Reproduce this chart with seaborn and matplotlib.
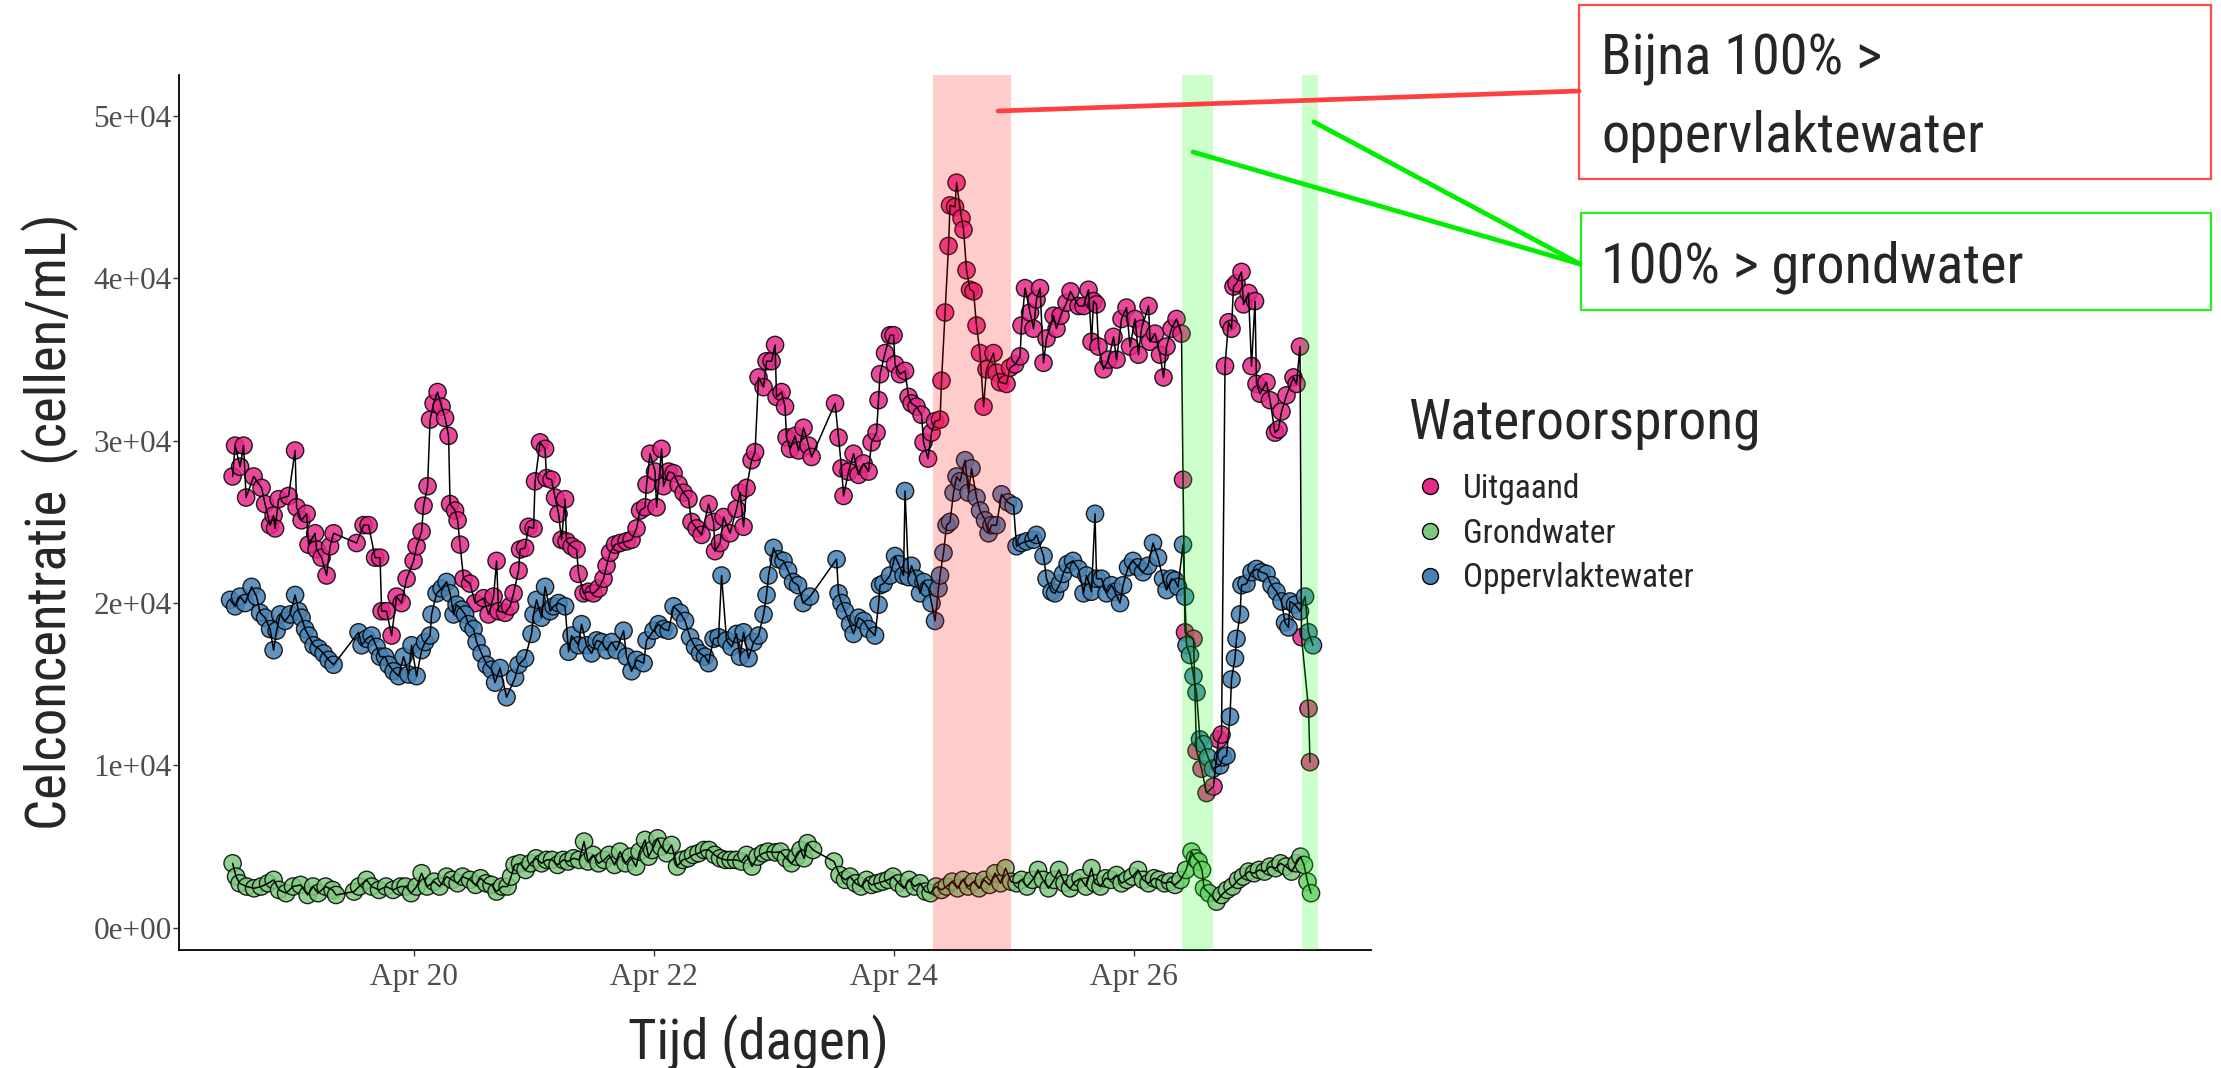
import matplotlib
matplotlib.use('Agg')
import matplotlib.pyplot as plt
import matplotlib.dates as mdates
from matplotlib import font_manager
from matplotlib.lines import Line2D
from matplotlib.patches import Rectangle
import pandas as pd
import seaborn as sns

# ---- Data: (hours since Apr 18 00:00, cells/mL) per water origin ---- #
uitgaand = [
    (11.8, 27800), (12.3, 29700), (13.3, 28400), (14.0, 29700), (14.5, 26500), (16.0, 27800), (17.6, 27100),
    (18.3, 26100), (19.3, 24800), (20.0, 25400), (20.3, 24600), (21.0, 26400), (23.0, 26600), (24.3, 29400),
    (24.6, 25900), (25.6, 25100), (26.6, 25500), (27.0, 23600), (28.3, 24300), (28.6, 23300), (29.6, 22800),
    (30.6, 21700), (31.3, 23500), (32.0, 24300), (36.6, 23700), (38.0, 24800), (39.0, 24800), (40.3, 22800),
    (41.3, 22800), (41.6, 19500), (42.6, 19500), (43.6, 18000), (44.6, 20400), (45.6, 20000), (46.6, 21500),
    (48.0, 22600), (48.6, 23500), (49.6, 24400), (50.0, 26000), (50.8, 27200), (51.3, 31300), (52.0, 32300),
    (52.8, 33000), (53.6, 32100), (54.3, 31400), (55.0, 30300), (55.3, 26100), (56.3, 25700), (56.8, 25100),
    (57.3, 23600), (58.0, 21500), (59.3, 21200), (60.3, 20000), (62.0, 20300), (63.0, 19300), (64.0, 20400),
    (64.6, 22600), (65.0, 19500), (66.3, 19400), (67.3, 19800), (68.0, 20600), (69.0, 22000), (69.3, 23300),
    (70.3, 23400), (71.0, 24700), (72.0, 24600), (72.3, 27500), (73.3, 29900), (74.3, 29500), (74.6, 27700),
    (75.6, 27600), (76.3, 26500), (77.0, 25500), (77.6, 23900), (78.3, 26400), (78.6, 23800), (79.6, 23500),
    (80.6, 23300), (81.0, 21800), (82.0, 20600), (83.0, 20700), (84.0, 20600), (85.0, 20900), (86.0, 21500),
    (86.6, 22300), (87.3, 23100), (88.3, 23600), (89.3, 23700), (90.6, 23800), (91.6, 23900), (92.6, 24600),
    (93.3, 25700), (94.3, 25900), (94.6, 27300), (95.3, 29200), (96.3, 28100), (96.6, 25900), (97.6, 29500),
    (98.0, 27200), (99.0, 28100), (100.0, 28000), (101.0, 27300), (102.0, 26800), (103.0, 26400), (103.6, 25000),
    (104.6, 24600), (105.6, 24200), (107.0, 26100), (108.0, 25000), (108.3, 23200), (109.3, 23700), (110.0, 25300),
    (111.3, 24300), (112.6, 25800), (113.3, 26800), (114.0, 24700), (114.6, 27100), (115.6, 28800), (116.3, 29300),
    (117.0, 33900), (118.0, 33300), (118.6, 34900), (119.6, 34900), (120.3, 35900), (120.6, 32700), (121.6, 33000),
    (122.3, 32100), (122.6, 30200), (123.3, 29500), (124.3, 30300), (125.0, 29400), (126.0, 30800), (127.0, 29700),
    (127.6, 29000), (132.3, 32300), (133.0, 30200), (133.6, 28300), (134.0, 26600), (135.0, 28100), (136.0, 29200),
    (137.0, 27900), (138.0, 28600), (139.0, 28100), (139.6, 29900), (140.6, 30500), (141.0, 32500), (141.3, 34100),
    (142.3, 35400), (143.3, 36500), (144.0, 36500), (144.3, 34700), (145.3, 34100), (146.3, 34300), (147.0, 32700),
    (147.6, 32300), (148.6, 32100), (149.6, 31600), (150.0, 29900), (150.9, 28900), (151.6, 30500), (152.3, 31200),
    (153.3, 31300), (153.6, 33700), (154.3, 37900), (155.0, 42000), (155.3, 44500), (156.3, 44400), (156.6, 45900),
    (157.6, 43700), (158.0, 43000), (158.6, 40500), (159.3, 39300), (160.0, 39200), (160.6, 37100), (161.3, 35400),
    (162.0, 32100), (162.6, 34400), (164.0, 35400), (164.6, 34200), (165.3, 33600), (166.6, 33500), (167.3, 34500),
    (168.3, 34700), (169.3, 35200), (169.6, 37100), (170.3, 39400), (171.3, 37900), (172.0, 36900), (172.6, 38700),
    (173.3, 39400), (174.0, 34800), (174.6, 36300), (176.0, 37700), (176.6, 36900), (177.4, 37700), (178.6, 38500),
    (179.4, 39200), (181.0, 38300), (182.0, 38300), (183.0, 39300), (183.6, 36100), (184.0, 38600), (184.6, 38400),
    (185.0, 35800), (186.0, 34400), (187.0, 35000), (188.0, 36400), (188.6, 35000), (189.6, 37500), (190.6, 38200),
    (191.3, 35800), (192.3, 37500), (193.0, 35300), (193.6, 36900), (195.0, 38300), (195.3, 36100), (196.3, 36600),
    (197.3, 35300), (198.0, 33900), (198.6, 35800), (199.6, 36900), (200.6, 37500), (201.6, 36600), (201.9, 27600),
    (202.3, 18200), (204.0, 17800), (204.6, 10900), (205.6, 9800), (206.6, 8300), (208.0, 8700), (209.0, 11600),
    (209.6, 11900), (210.3, 34600), (211.0, 37300), (211.6, 36900), (212.0, 39500), (212.6, 39700), (213.6, 40400),
    (214.0, 38400), (215.0, 39100), (215.6, 34600), (216.3, 38600), (216.6, 33500), (217.3, 32900), (218.6, 33600),
    (219.3, 32500), (220.3, 30500), (221.0, 30700), (221.6, 31800), (222.6, 32800), (224.0, 33900), (224.6, 33500),
    (225.3, 35800), (225.6, 17900), (227.0, 13500), (227.3, 10200),
]

grondwater = [
    (11.8, 3970), (12.5, 3150), (13.2, 2740), (14.6, 2540), (16.1, 2430), (17.5, 2540), (18.9, 2740), (20.0, 2950),
    (21.1, 2330), (22.5, 2130), (23.9, 2540), (25.4, 2640), (26.8, 2020), (27.9, 2540), (28.9, 2130), (30.4, 2540),
    (31.8, 2330), (32.5, 2020), (36.1, 2230), (37.1, 2540), (38.6, 2950), (39.6, 2540), (41.1, 2330), (42.5, 2540),
    (43.9, 2330), (45.4, 2540), (46.4, 2540), (47.5, 2130), (48.6, 2540), (49.6, 3360), (50.7, 2540), (52.1, 2840),
    (53.2, 2540), (54.6, 3150), (55.7, 2950), (56.8, 2740), (57.8, 3150), (59.3, 2950), (60.4, 2640), (61.4, 3050),
    (62.5, 2740), (63.6, 2640), (64.6, 2230), (65.7, 2540), (66.8, 2540), (67.5, 3150), (68.2, 3870), (69.3, 3970),
    (70.4, 3560), (71.4, 3970), (72.5, 4280), (73.6, 3970), (74.6, 4180), (75.7, 4180), (76.8, 3870), (77.9, 4180),
    (78.9, 4080), (80.0, 4280), (81.1, 4180), (82.1, 5310), (82.9, 4080), (83.9, 4490), (85.0, 3970), (86.1, 4180),
    (87.1, 4490), (88.2, 3870), (89.3, 4690), (90.4, 3970), (91.4, 4380), (92.5, 3770), (93.2, 4690), (94.3, 5410),
    (95.0, 4380), (95.7, 4790), (96.8, 5510), (97.5, 5000), (98.6, 4590), (99.6, 5100), (100.7, 3770), (101.8, 4180),
    (102.9, 4280), (103.9, 4490), (105.0, 4590), (106.1, 4790), (107.1, 4790), (108.2, 4490), (109.3, 4280),
    (110.4, 4180), (111.4, 4180), (112.5, 4180), (113.6, 4080), (114.6, 4490), (115.7, 3770), (116.8, 4380),
    (117.9, 4590), (118.9, 4690), (120.4, 4640), (121.4, 4690), (122.5, 4280), (123.6, 3970), (124.6, 4380),
    (125.4, 4790), (126.1, 4280), (126.8, 5210), (127.9, 4790), (132.1, 4080), (133.2, 3250), (134.3, 2950),
    (135.3, 3150), (136.4, 2740), (137.5, 2540), (138.6, 2950), (139.6, 2640), (140.7, 2740), (141.8, 2840),
    (142.9, 2950), (143.9, 3150), (145.0, 2740), (146.1, 2430), (147.1, 2950), (148.2, 2540), (149.3, 2740),
    (150.4, 2230), (151.4, 2130), (152.5, 2540), (153.6, 2330), (154.6, 2540), (155.7, 2840), (156.8, 2430),
    (157.9, 2950), (158.9, 2540), (160.0, 2840), (161.1, 2430), (162.1, 2950), (163.2, 2640), (164.3, 3360),
    (165.4, 2740), (166.4, 3670), (167.5, 2840), (168.6, 2740), (169.6, 2950), (170.7, 2540), (171.8, 2950),
    (172.9, 3560), (173.9, 2950), (175.0, 2430), (176.1, 2950), (177.1, 3560), (178.2, 2740), (179.3, 2430),
    (180.3, 2840), (181.4, 3050), (182.5, 2540), (183.6, 3670), (184.3, 2740), (185.4, 2540), (186.4, 3050),
    (187.5, 2950), (188.6, 3250), (189.6, 2740), (190.7, 2950), (191.8, 3150), (192.9, 3560), (193.9, 2950),
    (195.0, 2740), (196.1, 3050), (197.1, 2950), (198.2, 2740), (199.3, 2840), (200.3, 2640), (201.4, 2950),
    (202.5, 3560), (203.6, 4690), (204.3, 4280), (205.0, 4080), (205.7, 3560), (206.1, 2430), (207.1, 2130),
    (208.6, 1610), (209.6, 2020), (210.7, 2330), (211.8, 2540), (212.9, 2950), (213.9, 3150), (215.0, 3460),
    (216.1, 3360), (217.1, 3560), (218.2, 3460), (219.3, 3770), (220.4, 3670), (221.4, 3970), (222.5, 3770),
    (223.6, 3460), (224.6, 3970), (225.4, 4380), (226.1, 3870), (226.8, 2840), (227.5, 2130),
]

oppervlaktewater = [
    (11.3, 20200), (12.3, 19800), (13.3, 20400), (14.3, 20000), (15.6, 21000), (16.6, 20400), (17.3, 19400),
    (18.3, 19100), (19.3, 18400), (20.0, 17100), (20.6, 18300), (21.3, 19300), (22.3, 18900), (23.3, 19300),
    (24.3, 20500), (25.0, 19500), (25.6, 19100), (26.3, 18400), (27.0, 18000), (28.0, 17400), (29.0, 17200),
    (30.0, 16900), (31.0, 16500), (32.0, 16200), (37.0, 18200), (37.6, 17400), (38.6, 17800), (39.6, 18000),
    (40.6, 17300), (41.3, 16700), (42.3, 16700), (43.0, 16200), (44.0, 15800), (45.0, 15500), (46.0, 16700),
    (47.0, 15600), (47.6, 17400), (48.6, 15500), (49.6, 17100), (50.3, 17600), (51.3, 18000), (51.6, 19300),
    (52.6, 20600), (53.6, 20900), (54.6, 21300), (55.3, 20600), (56.0, 19300), (56.6, 19900), (57.6, 19600),
    (58.3, 19300), (59.0, 18700), (60.0, 18400), (60.6, 17600), (61.6, 16900), (62.6, 16200), (63.6, 15900),
    (64.3, 15100), (65.3, 16000), (66.6, 14200), (68.3, 15400), (69.0, 16200), (70.3, 16600), (71.6, 18100),
    (72.0, 19300), (72.6, 20200), (73.6, 19100), (74.3, 21000), (75.3, 19500), (76.0, 19800), (77.0, 20000),
    (78.3, 19800), (79.0, 17000), (79.6, 18000), (81.0, 17400), (81.6, 18700), (82.6, 17400), (83.6, 16900),
    (84.6, 17700), (85.6, 17600), (86.6, 17100), (87.6, 17600), (88.6, 17100), (90.0, 18300), (90.6, 16700),
    (91.6, 15800), (92.6, 16500), (94.0, 16300), (94.6, 17700), (96.0, 18300), (97.0, 18700), (98.0, 18400),
    (99.0, 18300), (100.0, 19800), (101.3, 19400), (102.3, 18900), (103.3, 17900), (104.3, 17300), (105.3, 16900),
    (106.3, 16700), (107.0, 16300), (108.0, 17800), (109.0, 17900), (109.6, 21700), (110.6, 17700), (111.6, 17300),
    (112.6, 18100), (113.3, 16700), (114.0, 18200), (115.0, 16600), (116.0, 17600), (117.0, 18000), (118.0, 19300),
    (118.6, 20500), (119.0, 21700), (120.0, 23400), (121.0, 22700), (122.0, 22600), (122.9, 22000), (123.9, 21300),
    (124.9, 21100), (125.9, 20000), (127.3, 20400), (132.6, 22700), (133.0, 20600), (133.6, 20000), (134.3, 19500),
    (135.3, 18700), (136.0, 18100), (137.0, 19100), (138.0, 18900), (139.0, 18400), (140.3, 18000), (141.0, 19900),
    (141.3, 21100), (142.0, 21200), (143.3, 21700), (144.3, 22900), (145.0, 22400), (146.0, 21700), (146.3, 26900),
    (147.0, 21600), (147.6, 22300), (148.6, 21500), (149.3, 20600), (150.0, 21300), (151.0, 20900), (151.6, 20000),
    (152.3, 18900), (153.0, 20900), (153.3, 21700), (154.0, 23100), (154.6, 24800), (155.3, 25000), (156.0, 26800),
    (156.6, 27800), (157.3, 27500), (158.3, 28800), (159.0, 26800), (159.6, 28300), (160.6, 26500), (161.3, 25700),
    (162.3, 25100), (163.0, 24300), (163.6, 24800), (164.6, 24800), (165.6, 26700), (166.9, 26200), (168.0, 26000),
    (168.6, 23500), (169.6, 23700), (170.6, 23800), (172.0, 23900), (172.6, 24200), (174.0, 22900), (174.6, 21500),
    (175.6, 20700), (176.3, 20600), (177.3, 21200), (177.9, 21800), (178.8, 22400), (179.9, 22600), (181.0, 22100),
    (182.0, 20600), (182.6, 21700), (183.6, 20700), (184.3, 25500), (184.6, 21500), (185.6, 21500), (186.6, 20600),
    (187.6, 21100), (188.3, 20700), (189.3, 20000), (189.9, 21100), (190.9, 22200), (191.9, 22600), (192.9, 22200),
    (193.9, 21900), (194.9, 22300), (195.9, 23700), (196.9, 22800), (197.9, 21500), (198.6, 20800), (199.6, 21500),
    (200.3, 21400), (200.9, 21000), (201.9, 23600), (202.3, 20400), (202.6, 17400), (203.3, 16800), (204.0, 15500),
    (204.6, 14500), (205.3, 11600), (206.0, 11300), (206.9, 10500), (207.9, 9800), (209.3, 10000), (209.9, 10500),
    (210.6, 10600), (211.3, 13000), (211.6, 15300), (212.3, 16600), (212.6, 17800), (213.3, 19300), (213.6, 21100),
    (214.6, 21200), (215.6, 21900), (216.6, 22100), (217.6, 21900), (218.6, 21800), (219.6, 21100), (220.6, 20700),
    (221.6, 20100), (222.3, 18800), (223.0, 18500), (223.3, 20100), (224.3, 19900), (225.3, 19500), (226.3, 20400),
    (227.0, 18200), (227.9, 17400),
]

series_names = ['Uitgaand', 'Grondwater', 'Oppervlaktewater']
series_colors = ['#e7298a', '#7fc97f', '#4682b4']

x_tick_dates = ['2021-04-20', '2021-04-22', '2021-04-24', '2021-04-26']
y_ticks = [0, 10000, 20000, 30000, 40000, 50000]

# highlighted periods (hours since Apr 18)
red_periods = [(151.8, 167.5)]
green_periods = [(201.6, 207.8), (225.7, 228.8)]

start = pd.Timestamp('2021-04-18')


def to_time(hours):
    return start + pd.to_timedelta(hours, unit='h')


# ---- Build long dataframe ---- #
frames = []
for name, readings in zip(series_names, [uitgaand, grondwater, oppervlaktewater]):
    part = pd.DataFrame(readings, columns=['uur', 'cel'])
    part['bron'] = name
    frames.append(part)
df = pd.concat(frames, ignore_index=True)
df['tijd'] = to_time(df['uur'])

# ---- Fonts ---- #
sns.set_theme(style='ticks')
available = {f.name for f in font_manager.fontManager.ttflist}
narrow = next((f for f in ['Roboto Condensed', 'Liberation Sans Narrow', 'Ubuntu Condensed',
                           'Open Sans Condensed', 'Lato'] if f in available), 'DejaVu Sans')
plt.rcParams['font.family'] = [narrow, 'DejaVu Sans']

W, H = 2221, 1068


def fx(px):
    return px / W


def fy(py):
    return 1 - py / H


fig = plt.figure(figsize=(W / 100, H / 100), dpi=100)
ax = fig.add_axes([fx(178.5), fy(950), (1371 - 178.5) / W, (950 - 75) / H])

palette = dict(zip(series_names, series_colors))
sns.scatterplot(data=df, x='tijd', y='cel', hue='bron', hue_order=series_names, palette=palette,
                s=155, edgecolor='black', linewidth=1.0, alpha=0.85, legend=False, ax=ax, zorder=2)
sns.lineplot(data=df, x='tijd', y='cel', units='bron', estimator=None, color='black',
             linewidth=1.1, legend=False, ax=ax, zorder=3)

for a, b in red_periods:
    ax.axvspan(to_time(a), to_time(b), color='#ff0000', alpha=0.2, lw=0, zorder=4)
for a, b in green_periods:
    ax.axvspan(to_time(a), to_time(b), color='#00ff00', alpha=0.2, lw=0, zorder=4)

ax.set_xlim(to_time(0.98), to_time(239.5))
ax.set_ylim(-1370, 52530)
ax.set_yticks(y_ticks)
ax.set_yticklabels([f'{v:.0e}' for v in y_ticks])
ax.set_xticks(pd.to_datetime(x_tick_dates))
ax.xaxis.set_major_formatter(mdates.DateFormatter('%b %d'))

for side in ['top', 'right']:
    ax.spines[side].set_visible(False)
for side in ['left', 'bottom']:
    ax.spines[side].set_color('black')
    ax.spines[side].set_linewidth(1.3)

ax.tick_params(axis='both', length=4, width=1, color='#333333', labelcolor='#4d4d4d', labelsize=22.5)
ax.tick_params(axis='y', pad=1)
ax.tick_params(axis='x', pad=5)
for lab in ax.get_xticklabels() + ax.get_yticklabels():
    lab.set_family('Liberation Serif')

ax.set_xlabel('Tijd (dagen)', fontsize=39.5, family=narrow)
ax.set_ylabel('Celconcentratie  (cellen/mL)', fontsize=39.5, family=narrow)
ax.xaxis.set_label_coords((758 - 178.5) / (1371 - 178.5), -64 / 875)
ax.yaxis.set_label_coords((79 - 178.5) / (1371 - 178.5), (950 - 522) / 875)

# ---- Legend ---- #
handles = [Line2D([], [], ls='', marker='o', markersize=11.5, markerfacecolor=c,
                  markeredgecolor='black', markeredgewidth=1.0) for c in series_colors]
fig.text(fx(1408), fy(438.7), 'Wateroorsprong', fontsize=40, family=narrow, va='baseline')
fig.legend(handles, series_names, loc='upper left',
           bbox_to_anchor=(fx(1408), fy(473)), frameon=False,
           prop={'family': narrow, 'size': 24},
           handlelength=1.3, handletextpad=0.36, labelspacing=0.38,
           borderpad=0, borderaxespad=0)

# ---- Annotations ---- #
fig.add_artist(Rectangle((fx(1579), fy(178.7)), (2211 - 1579) / W, (178.7 - 4.7) / H, fill=False,
                         edgecolor='#ff4a4a', lw=1.6, transform=fig.transFigure))
fig.add_artist(Rectangle((fx(1581), fy(309.9)), (2211 - 1581) / W, (309.9 - 212.6) / H, fill=False,
                         edgecolor='#22ee22', lw=1.6, transform=fig.transFigure))
fig.text(fx(1601), fy(75), 'Bijna 100% >', fontsize=40.5, family=narrow, va='baseline')
fig.text(fx(1601), fy(152), 'oppervlaktewater', fontsize=40.5, family=narrow, va='baseline')
fig.text(fx(1601), fy(282.6), '100% > grondwater', fontsize=40.5, family=narrow, va='baseline')
fig.add_artist(Line2D([fx(998), fx(1579)], [fy(111), fy(91)], color='#ff4040', lw=3.4,
                      transform=fig.transFigure))
fig.add_artist(Line2D([fx(1193), fx(1580)], [fy(152), fy(264)], color='#00ee00', lw=3.4,
                      transform=fig.transFigure))
fig.add_artist(Line2D([fx(1314), fx(1580)], [fy(122), fy(264)], color='#00ee00', lw=3.4,
                      transform=fig.transFigure))

fig.savefig('out.png', dpi=100)
